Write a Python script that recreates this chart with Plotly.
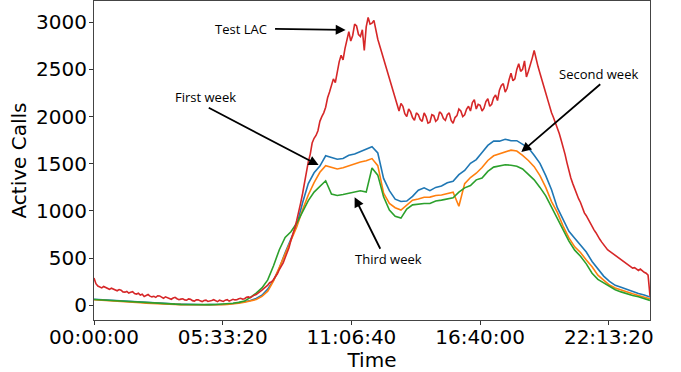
import numpy as np
import plotly.graph_objects as go

# ---------------- data ----------------
# Time ticks (seconds since midnight) and their labels
tick_seconds = [0, 20000, 40000, 60000, 80000]
tick_labels = ["00:00:00", "05:33:20", "11:06:40", "16:40:00", "22:13:20"]
y_ticks = [0, 500, 1000, 1500, 2000, 2500, 3000]

# Test LAC: one value every 5 minutes (12 per hour)
test_lac = [
    290, 230, 205, 195, 185, 200, 190, 172, 170, 182, 175, 160,
    155, 168, 160, 142, 140, 148, 130, 138, 145, 125, 120, 128,
    110, 118, 95, 105, 115, 98, 90, 96, 85, 102, 100, 88,
    75, 90, 80, 68, 65, 78, 85, 70, 60, 66, 70, 58,
    55, 68, 65, 50, 45, 58, 60, 48, 40, 52, 55, 42,
    45, 52, 60, 48, 40, 55, 50, 42, 55, 60, 45, 52,
    65, 58, 60, 70, 75, 66, 70, 85, 90, 82, 100, 108,
    115, 128, 140, 162, 180, 195, 215, 240, 250, 275, 300, 335,
    380, 410, 450, 505, 560, 610, 690, 750, 820, 900, 980, 1080,
    1180, 1300, 1420, 1520, 1600, 1720, 1770, 1800, 1850, 1950, 2000, 2040,
    2100, 2200, 2260, 2330, 2400, 2360, 2480, 2580, 2650, 2600, 2720, 2820,
    2900, 2800, 2860, 2980, 2960, 2870, 2850, 2920, 2700, 2950, 3050, 2980,
    2990, 3020, 2900, 2820, 2750, 2680, 2620, 2540, 2470, 2400, 2330, 2250,
    2180, 2110, 2060, 2140, 2110, 2030, 2000, 2080, 2050, 1990, 1960, 2040,
    2020, 1970, 1950, 2040, 2000, 1930, 1940, 2020, 2010, 1950, 1970, 2050,
    2030, 1980, 1960, 2020, 2040, 1960, 1930, 1990, 2010, 2080, 2060, 2000,
    2020, 2080, 2110, 2060, 2150, 2180, 2080, 2130, 2120, 2060, 2090, 2160,
    2190, 2110, 2130, 2200, 2230, 2170, 2280, 2330, 2350, 2260, 2300, 2390,
    2460, 2380, 2400, 2500, 2560, 2480, 2500, 2590, 2420, 2480, 2540, 2620,
    2700, 2600, 2530, 2460, 2380, 2310, 2250, 2180, 2100, 2040, 1990, 1940,
    1880, 1820, 1750, 1680, 1600, 1510, 1420, 1350, 1290, 1230, 1190, 1130,
    1090, 1030, 980, 950, 910, 870, 830, 800, 770, 730, 700, 670,
    640, 620, 590, 575, 560, 545, 530, 515, 500, 490, 470, 455,
    440, 425, 410, 395, 400, 380, 370, 385, 365, 350, 340, 320,
    100,
]

# Weeks: one value every 15 minutes (4 per hour)
first_week = [
    65, 61, 56, 51,
    49, 43, 41, 35,
    33, 27, 26, 21,
    20, 16, 15, 11,
    11, 8, 9, 6,
    8, 7, 10, 12,
    19, 25, 39, 51,
    74, 108, 172, 268,
    392, 558, 705, 848,
    1085, 1290, 1405, 1476,
    1585, 1566, 1548, 1557,
    1590, 1604, 1630, 1650,
    1680, 1615, 1345, 1215,
    1125, 1100, 1105, 1155,
    1220, 1245, 1215, 1250,
    1265, 1300, 1315, 1385,
    1430, 1505, 1545, 1620,
    1695, 1740, 1740, 1760,
    1745, 1745, 1705, 1670,
    1590, 1505, 1375, 1225,
    1035, 905, 785, 710,
    635, 565, 465, 385,
    310, 255, 212, 192,
    168, 150, 126, 110,
    88,
]

second_week = [
    60, 55, 50, 46,
    42, 38, 34, 30,
    27, 24, 20, 17,
    15, 12, 10, 8,
    6, 5, 5, 4,
    5, 5, 7, 9,
    14, 22, 33, 46,
    62, 95, 150, 260,
    400, 560, 690, 830,
    1010, 1170, 1300, 1410,
    1480, 1462, 1445, 1458,
    1480, 1495, 1520, 1532,
    1555, 1480, 1190, 1080,
    1035, 1010, 1060, 1115,
    1128, 1145, 1147, 1165,
    1170, 1185, 1200, 1050,
    1290, 1355, 1400, 1460,
    1535, 1585, 1605, 1625,
    1645, 1635, 1590, 1535,
    1470, 1375, 1250, 1100,
    985, 840, 715, 620,
    560, 480, 410, 320,
    265, 215, 185, 162,
    142, 122, 105, 88,
    70,
]

third_week = [
    62, 58, 54, 50,
    46, 42, 38, 34,
    30, 27, 24, 21,
    18, 15, 13, 11,
    9, 8, 7, 7,
    8, 9, 11, 15,
    22, 32, 45, 85,
    130, 185, 270, 420,
    590, 720, 780, 870,
    990, 1110, 1200, 1265,
    1320, 1180, 1165, 1175,
    1190, 1200, 1215, 1200,
    1455, 1380, 1150, 1010,
    945, 925, 1020, 1065,
    1075, 1080, 1080, 1105,
    1115, 1125, 1140, 1200,
    1245, 1270, 1330, 1350,
    1420, 1465, 1480, 1490,
    1485, 1475, 1445, 1390,
    1330, 1250, 1160, 1040,
    915, 790, 680, 585,
    520, 440, 340, 275,
    238, 195, 165, 143,
    122, 104, 92, 75,
    53,
]

t_red = np.arange(len(test_lac)) * 300
t_week = np.arange(len(first_week)) * 900

# ---------------- figure ----------------
fig = go.Figure()
lw = 1.6
fig.add_trace(go.Scatter(x=t_week, y=first_week, mode="lines",
                         line=dict(color="#1f77b4", width=lw), name="First week"))
fig.add_trace(go.Scatter(x=t_week, y=second_week, mode="lines",
                         line=dict(color="#ff7f0e", width=lw), name="Second week"))
fig.add_trace(go.Scatter(x=t_week, y=third_week, mode="lines",
                         line=dict(color="#2ca02c", width=lw), name="Third week"))
fig.add_trace(go.Scatter(x=t_red, y=test_lac, mode="lines",
                         line=dict(color="#d62728", width=lw), name="Test LAC"))

ann_font = dict(family="Open Sans", size=13, color="black")

# (text, text_x, text_y, tail_x, tail_y, tip_x, tip_y)
labels = [
    ("Test LAC", 22900, 2930, 27900, 2930, 39100, 2919),
    ("First week", 17300, 2208, 17600, 2102, 34900, 1486),
    ("Second week", 78400, 2452, 78900, 2357, 66400, 1624),
    ("Third week", 45700, 488, 44600, 584, 40500, 1146),
]
for txt, tx, ty, ax, ay, px, py in labels:
    fig.add_annotation(x=tx, y=ty, text=txt, showarrow=False, font=ann_font,
                       xanchor="center", yanchor="middle")
    fig.add_annotation(x=px, y=py, ax=ax, ay=ay, axref="x", ayref="y",
                       text="", showarrow=True, arrowhead=2, arrowsize=1.1,
                       arrowwidth=1.8, arrowcolor="black")

tick_font = dict(family="DejaVu Sans", size=20, color="black")
axis_common = dict(
    showline=True, mirror=True, linecolor="#444", linewidth=1,
    ticks="outside", ticklen=4, tickcolor="#333", tickwidth=1,
    showgrid=False, zeroline=False,
    tickfont=tick_font,
)

fig.update_xaxes(range=[0, 86400], tickvals=tick_seconds, ticktext=tick_labels,
                 ticklabelstandoff=-5,
                 title=dict(text="Time", font=tick_font, standoff=0),
                 **axis_common)
fig.update_yaxes(range=[-155, 3225], tickvals=y_ticks,
                 ticklabelstandoff=-2,
                 title=dict(text="Active Calls", font=tick_font, standoff=4),
                 **axis_common)

fig.update_layout(
    width=681, height=372,
    margin=dict(l=94, r=31, t=1, b=52, autoexpand=False),
    plot_bgcolor="white", paper_bgcolor="white",
    showlegend=False,
)

fig.write_html("out.html", config={"displayModeBar": False},
               post_script="document.body.style.margin='0';document.body.style.padding='0';")
